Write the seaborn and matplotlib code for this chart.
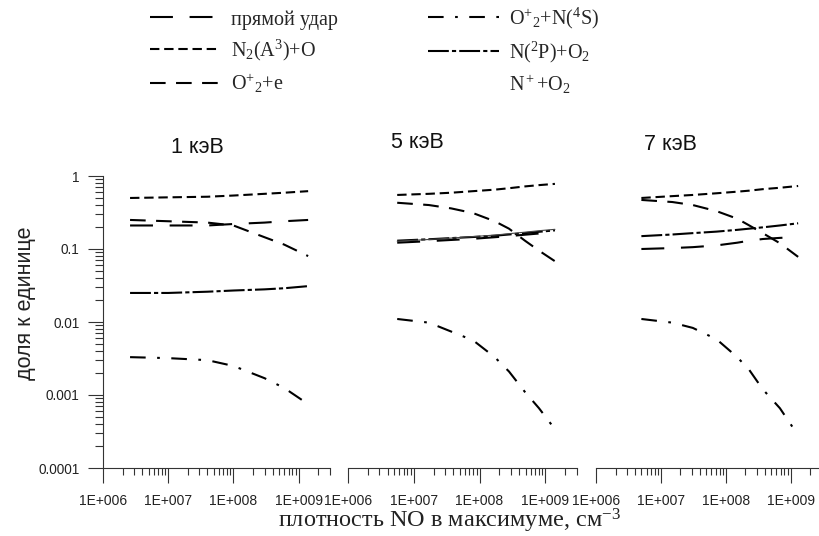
import numpy as np
import pandas as pd
import matplotlib
matplotlib.use("Agg")
import matplotlib.pyplot as plt
import seaborn as sns
from matplotlib.lines import Line2D
from matplotlib.ticker import LogLocator, FixedLocator, FuncFormatter, NullFormatter

sns.set_theme(style="ticks")
plt.rcParams['font.family'] = ['Liberation Sans', 'DejaVu Sans']
plt.rcParams['mathtext.fontset'] = 'custom'
plt.rcParams['mathtext.rm'] = 'Liberation Serif'
plt.rcParams['mathtext.it'] = 'Liberation Serif:italic'
plt.rcParams['mathtext.bf'] = 'Liberation Serif:bold'

# ---------------- data ----------------
processes = ["прямой удар", "N2(A3)+O", "O2+ +e", "O2+ +N(4S)", "N(2P)+O2", "N+ +O2"]
legend_labels = ["прямой удар", r"N$_2$(A$^3$)+O", r"O$^{+}{}_{2}$+e",
                 r"O$^{+}{}_{2}$+N($^4$S)", r"N($^2$P)+O$_2$", r"N$^+$+O$_2$"]
panel_titles = ["1 кэВ", "5 кэВ", "7 кэВ"]
x_tick_values = [1e6, 1e7, 1e8, 1e9]
y_tick_values = [1e-4, 1e-3, 1e-2, 1e-1, 1]
y_tick_labels = ["0.0001", "0.001", "0.01", "0.1", "1"]

# 1 keV
x1 = [2.6e6, 1e7, 4e7, 1e8, 3e8, 6e8, 1.4e9]
direct1 = [0.21, 0.21, 0.21, 0.22, 0.23, 0.24, 0.25]
n2a1 = [0.50, 0.51, 0.52, 0.54, 0.57, 0.59, 0.62]
o2e1 = [0.25, 0.24, 0.23, 0.21, 0.145, 0.115, 0.08]
o2n4s1 = [0.0033, 0.0032, 0.0030, 0.0025, 0.0017, 0.00125, 0.00075]
n2p1 = [0.025, 0.025, 0.026, 0.027, 0.028, 0.029, 0.031]

# 5 keV
x2 = [5.6e6, 1.7e7, 3.7e7, 8e7, 1.7e8, 2.8e8, 4.9e8, 8e8, 1.4e9]
direct2 = [0.122, 0.128, 0.133, 0.138, 0.145, 0.150, 0.157, 0.163, 0.170]
n2a2 = [0.55, 0.57, 0.59, 0.62, 0.65, 0.68, 0.72, 0.75, 0.78]
o2e2 = [0.43, 0.40, 0.36, 0.31, 0.24, 0.19, 0.13, 0.095, 0.068]
o2n4s2 = [0.011, 0.0098, 0.0074, 0.0056, 0.0033, 0.0021, 0.0011, 0.00066, 0.00034]
n2p2 = [0.130, 0.136, 0.141, 0.146, 0.152, 0.158, 0.165, 0.172, 0.180]
nplus2 = [0.128, 0.135, 0.141, 0.148, 0.155, 0.162, 0.170, 0.178, 0.186]

# 7 keV
x3 = [5e6, 1.5e7, 3.1e7, 7.2e7, 1.5e8, 2.3e8, 3.7e8, 6.8e8, 1.3e9]
direct3 = [0.100, 0.103, 0.106, 0.112, 0.122, 0.130, 0.137, 0.142, 0.146]
n2a3 = [0.50, 0.53, 0.55, 0.58, 0.61, 0.63, 0.66, 0.69, 0.73]
o2e3 = [0.47, 0.44, 0.40, 0.33, 0.26, 0.21, 0.165, 0.12, 0.078]
o2n4s3 = [0.011, 0.0098, 0.0083, 0.0058, 0.0033, 0.0022, 0.0012, 0.00066, 0.00028]
n2p3 = [0.150, 0.158, 0.165, 0.173, 0.183, 0.190, 0.198, 0.210, 0.225]

panels = [
    (x1, {processes[0]: direct1, processes[1]: n2a1, processes[2]: o2e1,
          processes[3]: o2n4s1, processes[4]: n2p1}),
    (x2, {processes[0]: direct2, processes[1]: n2a2, processes[2]: o2e2,
          processes[3]: o2n4s2, processes[4]: n2p2, processes[5]: nplus2}),
    (x3, {processes[0]: direct3, processes[1]: n2a3, processes[2]: o2e3,
          processes[3]: o2n4s3, processes[4]: n2p3}),
]

rows = []
for p, (xs, series) in enumerate(panels):
    for proc, ys in series.items():
        for xv, yv in zip(xs, ys):
            rows.append({"panel": p, "proc": proc, "n": xv, "frac": yv})
df = pd.DataFrame(rows)

# ---------------- styles ----------------
dash_map = {
    processes[0]: (11, 8),
    processes[1]: (4.5, 2.3),
    processes[2]: (7.5, 5),
    processes[3]: (7.5, 5.5, 1.3, 5.5),
    processes[4]: (10, 1.5, 2, 1.5),
    processes[5]: "",
}
width_map = {processes[0]: 1.5, processes[1]: 1.5, processes[2]: 1.5,
             processes[3]: 1.5, processes[4]: 1.5, processes[5]: 0.8}
color_map = {processes[0]: "black", processes[1]: "black", processes[2]: "black",
             processes[3]: "black", processes[4]: "black", processes[5]: "#444444"}

W, H = 819, 536
fig = plt.figure(figsize=(W / 100, H / 100), dpi=100)
lefts = [103, 348, 596]
widths = [227, 229, 226]
bottom = 1 - 468 / H
height = 292 / H
axes = [fig.add_axes([l / W, bottom, w / W, height]) for l, w in zip(lefts, widths)]

tick_col = "#333333"
for i, ax in enumerate(axes):
    sub = df[df["panel"] == i]
    ax.set_xscale("log")
    ax.set_yscale("log")
    sns.lineplot(data=sub, x="n", y="frac", hue="proc", style="proc", size="proc",
                 palette=color_map, dashes=dash_map, sizes=width_map,
                 estimator=None, sort=False, legend=False, ax=ax)
    ax.set_xlim(1e6, 3.03e9)
    ax.set_ylim(1e-4, 1)
    ax.set_xlabel("")
    ax.set_ylabel("")
    ax.xaxis.set_major_locator(FixedLocator(x_tick_values))
    ax.xaxis.set_major_formatter(FuncFormatter(lambda v, p: f"1E+{int(round(np.log10(v))):03d}"))
    ax.xaxis.set_minor_locator(LogLocator(base=10, subs=np.arange(2, 10), numticks=50))
    ax.xaxis.set_minor_formatter(NullFormatter())
    ax.tick_params(axis="x", which="major", length=10.8, width=0.8, direction="out",
                   color=tick_col, labelcolor="#222222", labelsize=10, pad=8)
    ax.tick_params(axis="x", which="minor", length=5.2, width=0.8, direction="out", color=tick_col)
    ax.yaxis.set_major_locator(FixedLocator(y_tick_values))
    ax.yaxis.set_major_formatter(FuncFormatter(lambda v, p: y_tick_labels[int(round(np.log10(v))) + 4]))
    ax.yaxis.set_minor_locator(LogLocator(base=10, subs=np.arange(2, 10), numticks=50))
    ax.yaxis.set_minor_formatter(NullFormatter())
    ax.tick_params(axis="y", which="major", length=10.8, width=0.8, direction="out",
                   color=tick_col, labelcolor="#222222", labelsize=9.8, pad=6)
    ax.tick_params(axis="y", which="minor", length=5.8, width=0.8, direction="out", color=tick_col)
    for s in ["top", "right"]:
        ax.spines[s].set_visible(False)
    for s in ["left", "bottom"]:
        ax.spines[s].set_color(tick_col)
        ax.spines[s].set_linewidth(0.8)
    if i > 0:
        ax.spines["left"].set_visible(False)
        ax.tick_params(axis="y", which="both", left=False, labelleft=False)
    ax.set_facecolor("none")

# panel titles
title_pos = [(197, 153), (417, 148), (670, 150)]
for (tx, ty), t in zip(title_pos, panel_titles):
    fig.text(tx / W, 1 - ty / H, t, ha="center", va="baseline", fontsize=15.5,
             color="#111111", family=["Liberation Sans", "DejaVu Sans"])

fig.text(26 / W, 1 - 303 / H, "доля к единице", rotation=90, ha="center", va="center",
         fontsize=15.5, color="#222222", family=["Liberation Sans", "DejaVu Sans"])
fig.text(449 / W, 1 - 521 / H, "плотность NO в максимуме, см$^{-3}$", ha="center", va="center",
         fontsize=17.5, color="#222222", family=["Liberation Serif", "DejaVu Serif"])

# legend
handles = []
for proc in processes:
    if proc == processes[5]:
        handles.append(Line2D([], [], linestyle="none"))
    else:
        handles.append(Line2D([], [], color="black", lw=1.5, dashes=dash_map[proc]))
fig.legend(handles, legend_labels, ncol=2, loc="upper left",
           bbox_to_anchor=(150 / W, 1 - 6 / H), frameon=False,
           prop={"family": ["Liberation Serif", "DejaVu Serif"], "size": 14.5},
           handlelength=3.5, handletextpad=0.5, columnspacing=4.5,
           labelspacing=0.42, borderpad=0, borderaxespad=0)

fig.savefig("out.png", dpi=100, facecolor="white")
